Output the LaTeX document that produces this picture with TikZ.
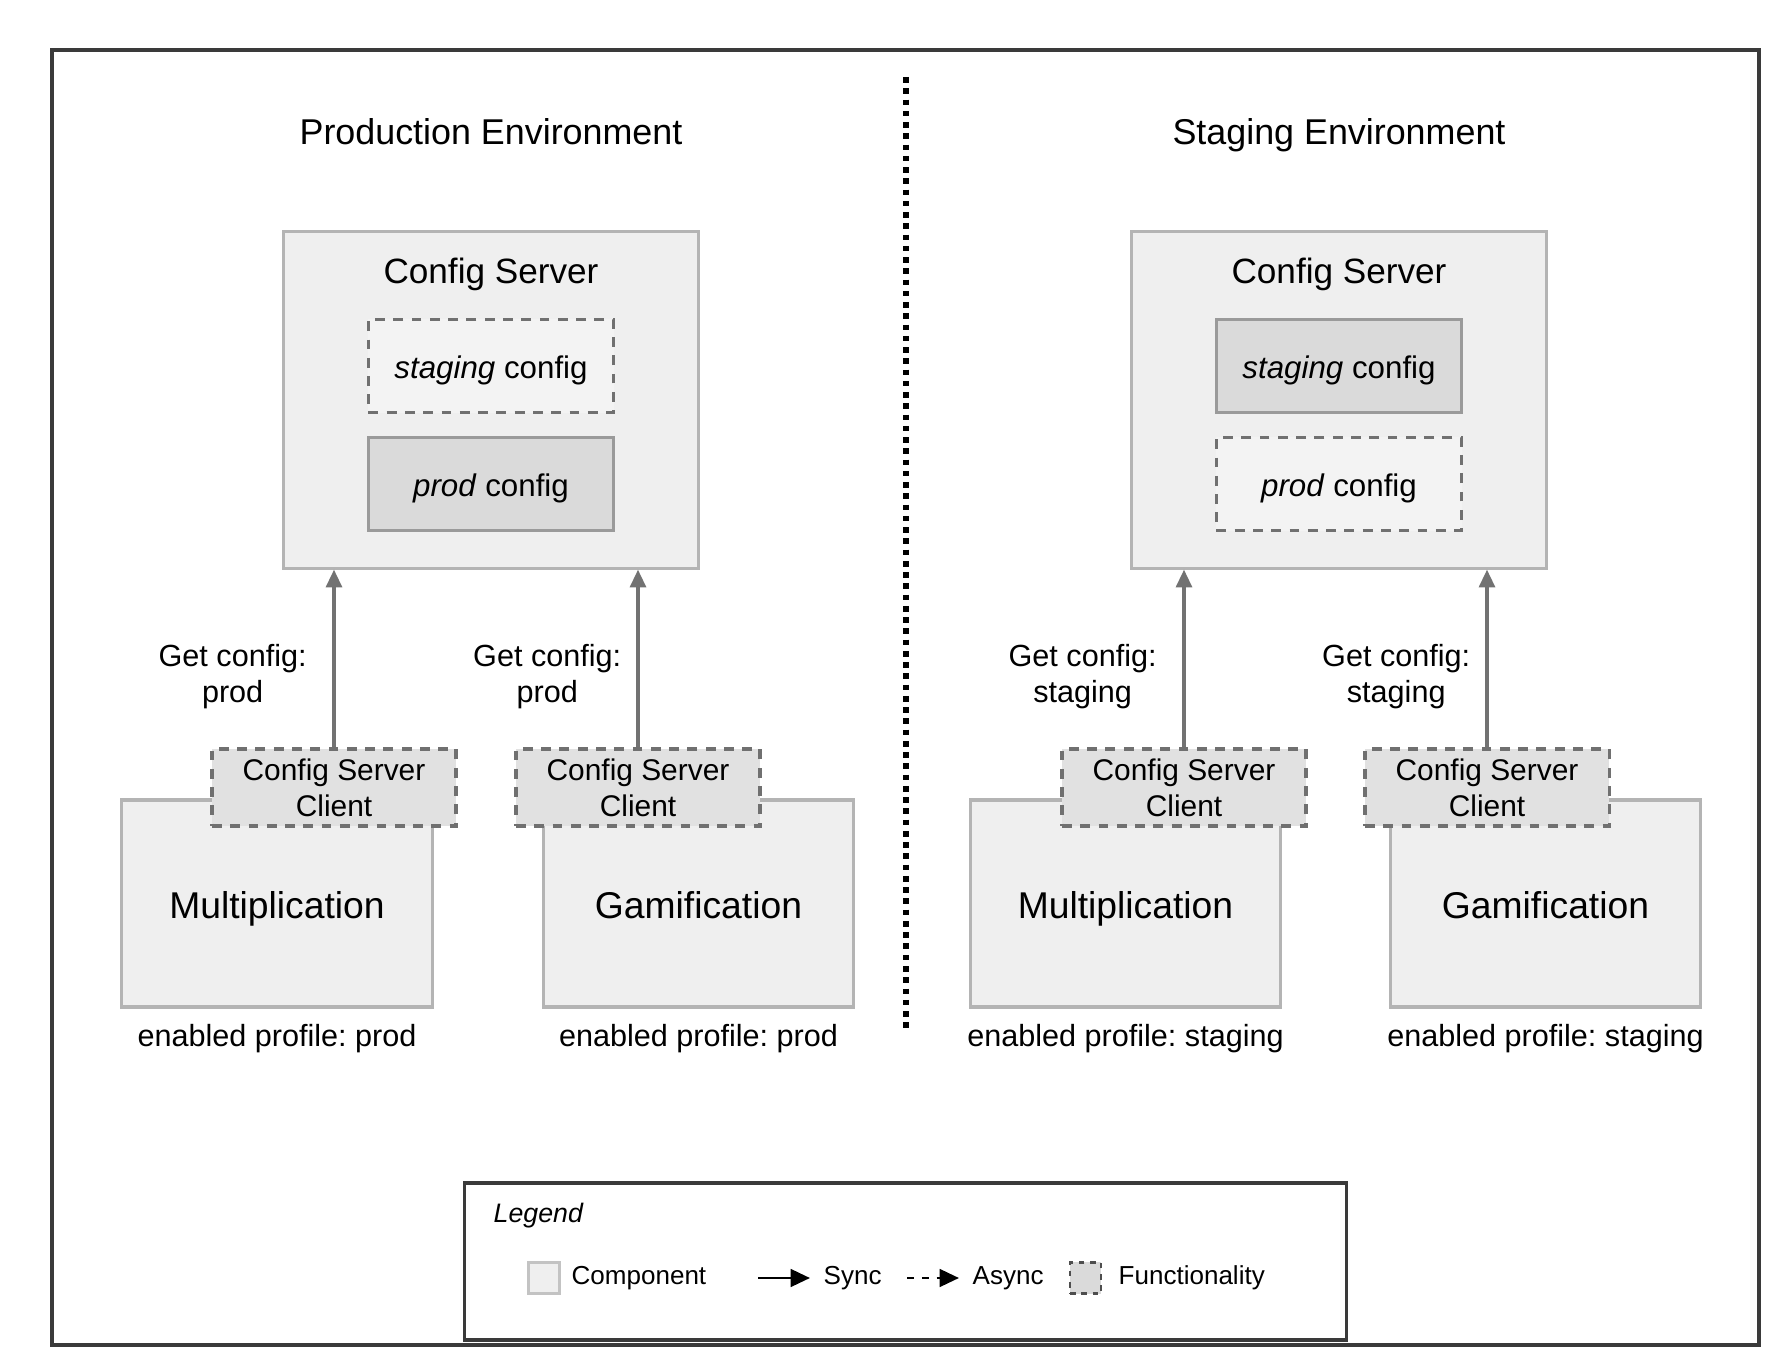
\documentclass[tikz,border=0pt]{standalone}
\usepackage{fontspec}
\setmainfont{Liberation Sans}
\usetikzlibrary{arrows.meta,positioning}

\definecolor{framecol}{HTML}{3A3A3A}
\definecolor{compline}{HTML}{B4B4B4}
\definecolor{compfill}{HTML}{EFEFEF}
\definecolor{cfgline}{HTML}{9A9A9A}
\definecolor{cfgfill}{HTML}{DADADA}
\definecolor{dashline}{HTML}{707070}
\definecolor{dashfill}{HTML}{F3F3F3}
\definecolor{clientfill}{HTML}{E1E1E1}
\definecolor{arrowgray}{HTML}{727272}

\tikzset{
  component/.style={draw=compline, fill=compfill, line width=0.9pt, minimum width=3.1cm, minimum height=2.07cm, text height=1.05em, text depth=0.22em, font=\fontsize{10.6}{12}\selectfont},
  server/.style={component, minimum width=4.15cm, minimum height=3.36cm},
  cfgsolid/.style={draw=cfgline, fill=cfgfill, line width=0.9pt, minimum width=2.45cm, minimum height=0.93cm, text height=0.95em, text depth=0.22em, font=\fontsize{8.9}{10}\selectfont},
  cfgdashed/.style={cfgsolid, draw=dashline, fill=dashfill, dash pattern=on 2.8pt off 2.4pt},
  client/.style={draw=dashline, fill=clientfill, line width=0.9pt, dash pattern=on 2.8pt off 2.4pt, minimum width=2.44cm, minimum height=0.77cm, align=center, inner sep=1pt, font=\fontsize{8.5}{10.2}\selectfont},
  getcfg/.style={-{Triangle[length=5pt,width=4.5pt]}, draw=arrowgray, line width=0.9pt},
  note/.style={font=\fontsize{8.7}{10.2}\selectfont, align=center},
  envtitle/.style={font=\fontsize{10.2}{12}\selectfont, text height=0.75em, text depth=0.22em},
  legtext/.style={font=\fontsize{7.4}{9}\selectfont, anchor=west, inner sep=0pt},
}

\begin{document}
\frenchspacing
\begin{tikzpicture}[x=0.01cm,y=-0.01cm]
  \useasboundingbox (0,0) rectangle (1784,1370);
  \draw[framecol, line width=0.9pt] (52,50) rectangle (1759,1345);
  \draw[black, line width=1.6pt, dash pattern=on 1.6pt off 1.6pt] (906,77) -- (906,1033);

  % production
  \node[envtitle] at (491,135) {Production Environment};
  \node[server] (srvP) at (491,400) {};
  \node[font=\fontsize{10}{12}\selectfont] at (491,274) {Config Server};
  \node[cfgdashed] (stgP) at (491,366) {\textit{staging} config};
  \node[cfgsolid] (prdP) at (491,484) {\textit{prod} config};

  \node[component] (mulP) at (277,903.5) {Multiplication};
  \node[client] (cliMP) at (334,787.5) {Config Server\\Client};
  \node[note, below=1pt of mulP] {enabled profile: prod};
  \node[component] (gamP) at (698.5,903.5) {Gamification};
  \node[client] (cliGP) at (638,787.5) {Config Server\\Client};
  \node[note, below=1pt of gamP] {enabled profile: prod};

  \draw[getcfg] (cliMP.north) -- (cliMP.north |- srvP.south) node[note, pos=0.4, left=4pt] {Get config:\\prod};
  \draw[getcfg] (cliGP.north) -- (cliGP.north |- srvP.south) node[note, pos=0.4, left=1pt] {Get config:\\prod};

  % staging
  \node[envtitle] at (1339,135) {Staging Environment};
  \node[server] (srvS) at (1339,400) {};
  \node[font=\fontsize{10}{12}\selectfont] at (1339,274) {Config Server};
  \node[cfgsolid] (stgS) at (1339,366) {\textit{staging} config};
  \node[cfgdashed] (prdS) at (1339,484) {\textit{prod} config};

  \node[component] (mulS) at (1125.5,903.5) {Multiplication};
  \node[client] (cliMS) at (1184,787.5) {Config Server\\Client};
  \node[note, below=1pt of mulS] {enabled profile: staging};
  \node[component] (gamS) at (1545.5,903.5) {Gamification};
  \node[client] (cliGS) at (1487,787.5) {Config Server\\Client};
  \node[note, below=1pt of gamS] {enabled profile: staging};

  \draw[getcfg] (cliMS.north) -- (cliMS.north |- srvS.south) node[note, pos=0.4, left=4pt] {Get config:\\staging};
  \draw[getcfg] (cliGS.north) -- (cliGS.north |- srvS.south) node[note, pos=0.4, left=1pt] {Get config:\\staging};

  % legend
  \node[draw=framecol, line width=0.9pt, minimum width=8.81cm, minimum height=1.57cm] (legend) at (905.5,1261.5) {};
  \node[font=\fontsize{7.6}{9}\selectfont\itshape, anchor=west, inner sep=0pt] at (493,1216) {Legend};
  \node[draw=compline!80, fill=compfill, line width=0.6pt, minimum size=0.31cm, inner sep=0pt] (swComp) at (544,1278) {};
  \node[legtext] (txComp) at (571,1278) {Component};
  \coordinate (syA) at (758,1278);
  \coordinate (syB) at (810,1278);
  \draw[black, line width=0.8pt, -{Triangle[length=5.5pt,width=5pt]}] (syA) -- (syB);
  \node[legtext] at (823,1278) {Sync};
  \coordinate (asA) at (907,1278);
  \coordinate (asB) at (959,1278);
  \draw[black, line width=0.8pt, dash pattern=on 2pt off 2.2pt, -{Triangle[length=5.5pt,width=5pt]}] (asA) -- (asB);
  \node[legtext] at (972,1278) {Async};
  \node[draw=dashline!70!black, fill=cfgfill, line width=0.7pt, dash pattern=on 1.6pt off 1.6pt, minimum size=0.31cm, inner sep=0pt] (swFunc) at (1085.5,1278) {};
  \node[legtext] at (1118,1278) {Functionality};
\end{tikzpicture}
\end{document}
